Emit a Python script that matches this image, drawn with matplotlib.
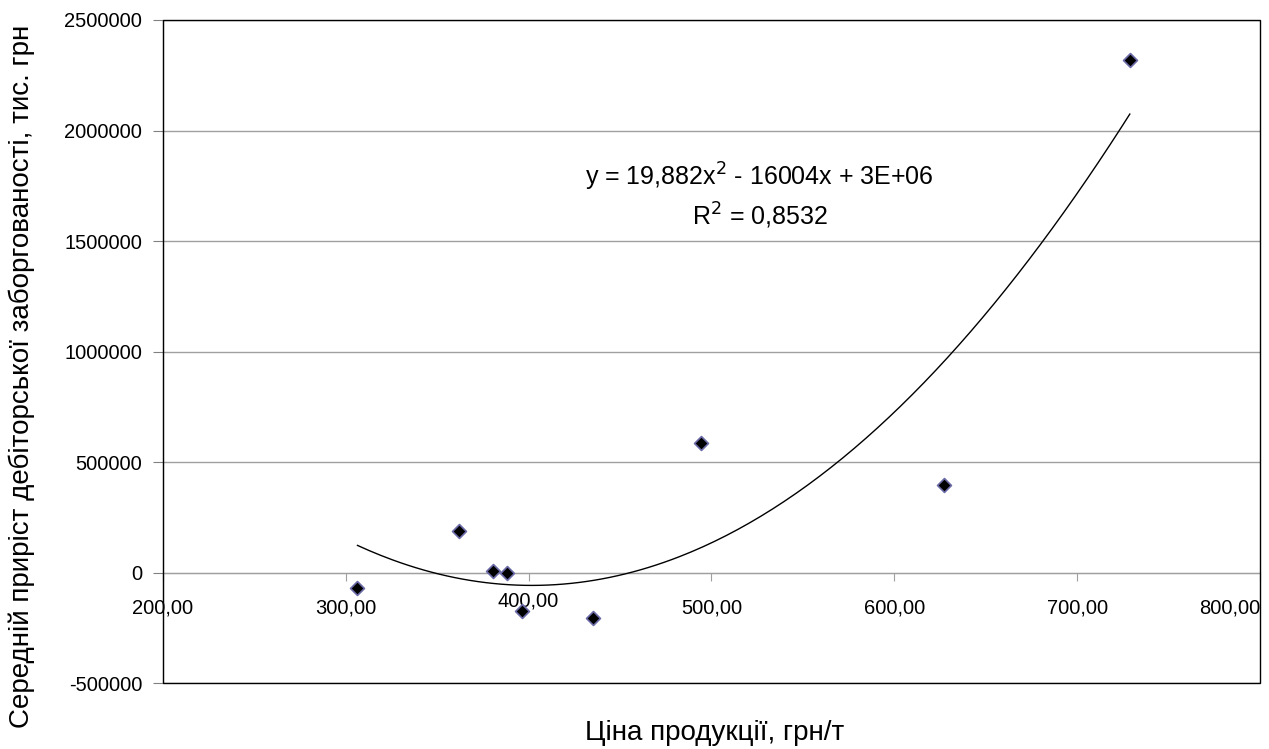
import numpy as np
import matplotlib.pyplot as plt
from matplotlib.patches import Rectangle
from matplotlib.transforms import ScaledTranslation

plt.rcParams['font.family'] = ['Liberation Sans', 'DejaVu Sans']

# data
price = [306.4, 362.0, 380.6, 388.3, 396.5, 435.2, 494.1, 627.3, 728.8]
growth = [-72000, 190000, 5000, -2000, -172000, -208000, 584000, 398000, 2317000]

x_ticks = [200, 300, 400, 500, 600, 700, 800]
y_ticks = [-500000, 0, 500000, 1000000, 1500000, 2000000, 2500000]

x_label = "Ціна продукції, грн/т"
y_label = "Середній приріст дебіторської заборгованості, тис. грн"
eq_text = "y = 19,882x$^{2}$ - 16004x + 3E+06\nR$^{2}$ = 0,8532"

fig = plt.figure(figsize=(12.69, 7.49), dpi=100)
ax = fig.add_axes([0.1284, 0.0881, 0.8645, 0.8852])

# trend line (2nd order polynomial)
coef = np.polyfit(price, growth, 2)
xs = np.linspace(min(price), max(price), 200)
ax.plot(xs, np.polyval(coef, xs), color='black', lw=1.0, zorder=3)

ax.scatter(price, growth, marker='D', s=50, facecolor='black',
           edgecolor='#6a6aa8', linewidth=1.2, zorder=4)

ax.set_xlim(200, 800)
ax.set_ylim(-500000, 2500000)
ax.set_xticks(x_ticks)
ax.set_xticklabels([f"{v:.2f}".replace('.', ',') for v in x_ticks])
ax.set_yticks(y_ticks)
ax.set_yticklabels([str(v) for v in y_ticks])

ax.grid(axis='y', color='#a0a0a0', lw=1.0)
ax.set_axisbelow(True)

# x axis crossing at zero
ax.spines['bottom'].set_position(('data', 0))
ax.spines['bottom'].set_color('#a0a0a0')
ax.spines['top'].set_visible(False)
ax.spines['right'].set_visible(False)
ax.spines['left'].set_color('#808080')
ax.add_patch(Rectangle((0, 0), 1, 1, transform=ax.transAxes, fill=False,
                       edgecolor='black', lw=1.0, clip_on=False, zorder=5))

ax.tick_params(axis='x', direction='out', length=6, color='#a0a0a0',
               labelsize=14.5, pad=13)
ax.tick_params(axis='y', direction='out', length=7, color='#808080',
               labelsize=14.5, pad=8)

xlabs = ax.get_xticklabels()
xlabs[-1].set_ha('right')
xlabs[2].set_transform(xlabs[2].get_transform() +
                       ScaledTranslation(0, 7 / 100, fig.dpi_scale_trans))

ax.text(0.544, 0.735, eq_text, transform=ax.transAxes, ha='center', va='center',
        fontsize=18, linespacing=1.3)

fig.text(0.5634, 0.012, x_label, ha='center', va='baseline', fontsize=20)
fig.text(0.0173, 0.497, y_label, rotation=90, ha='center', va='center', fontsize=20)

fig.savefig('out.png', dpi=100)
